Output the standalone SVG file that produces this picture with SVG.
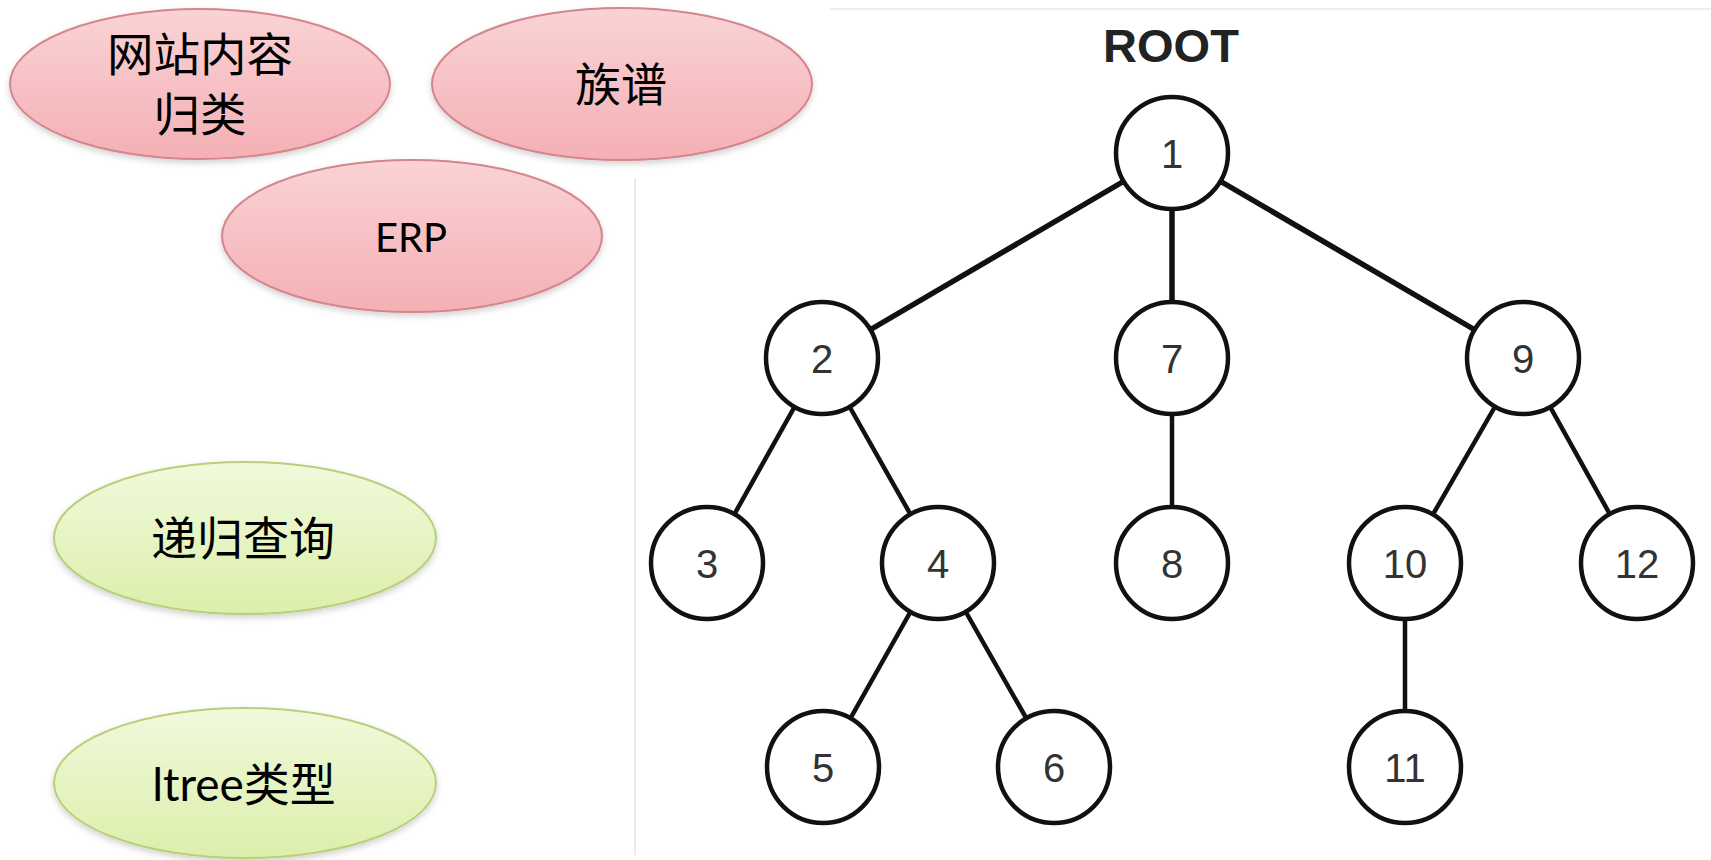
<svg xmlns="http://www.w3.org/2000/svg" width="1711" height="860" viewBox="0 0 1711 860">
<defs>
<linearGradient id="pink" x1="0" y1="0" x2="0" y2="1">
<stop offset="0" stop-color="#fad3d5"/>
<stop offset="1" stop-color="#f4b0b5"/>
</linearGradient>
<linearGradient id="green" x1="0" y1="0" x2="0" y2="1">
<stop offset="0" stop-color="#f1f9dc"/>
<stop offset="1" stop-color="#dcefab"/>
</linearGradient>
<filter id="sh" x="-10%" y="-10%" width="120%" height="130%">
<feDropShadow dx="0" dy="3" stdDeviation="3" flood-color="#000" flood-opacity="0.18"/>
</filter>
</defs>
<style>
.pk{fill:url(#pink);stroke:#d4868c;stroke-width:2;filter:url(#sh)}
.gr{fill:url(#green);stroke:#b9cf7c;stroke-width:2;filter:url(#sh)}
.cjk{font-family:"Noto Sans CJK SC","Liberation Sans",sans-serif;font-size:46px;fill:#000;text-anchor:middle}
.lat{font-family:Lato,"Noto Sans CJK SC",sans-serif;fill:#000;text-anchor:middle}
.nd circle{fill:#fff;stroke:#111;stroke-width:4.5}
.num{font-family:"Liberation Sans",Arial,sans-serif;font-size:40px;fill:#333;text-anchor:middle}
.e1{stroke:#111;stroke-width:5.5;stroke-linecap:round}
.e2{stroke:#111;stroke-width:4.5;stroke-linecap:round}
</style>
<rect width="1711" height="860" fill="#fff"/>
<line x1="830" y1="9" x2="1711" y2="9" stroke="#eeeeee" stroke-width="2"/>
<line x1="635" y1="178" x2="635" y2="855" stroke="#ececec" stroke-width="2"/>

<g id="n-web">
<ellipse class="pk" cx="200" cy="84" rx="190" ry="75"/>
<text class="cjk" x="200" y="71" font-size="41" textLength="186" lengthAdjust="spacingAndGlyphs">网站内容</text>
<text class="cjk" x="200" y="131" font-size="41" textLength="93" lengthAdjust="spacingAndGlyphs">归类</text>
</g>
<g id="n-genealogy">
<ellipse class="pk" cx="622" cy="84" rx="190" ry="76"/>
<text class="cjk" x="621" y="101">族谱</text>
</g>
<g id="n-erp">
<ellipse class="pk" cx="412" cy="236" rx="190" ry="76"/>
<text class="lat" x="411" y="252" font-size="40">ERP</text>
</g>
<g id="n-recursive">
<ellipse class="gr" cx="245" cy="538" rx="191" ry="76"/>
<text class="cjk" x="243" y="555">递归查询</text>
</g>
<g id="n-ltree">
<ellipse class="gr" cx="245" cy="783" rx="191" ry="75"/>
<text class="lat" x="244" y="801" font-size="46">ltree类型</text>
</g>

<text id="root-label" x="1171" y="62" font-family="Liberation Sans,Arial,sans-serif" font-size="47" font-weight="bold" fill="#222" text-anchor="middle">ROOT</text>

<g id="connectors">
<line class="e1" x1="1172" y1="153" x2="822" y2="358"/>
<line class="e1" x1="1172" y1="153" x2="1172" y2="358"/>
<line class="e1" x1="1172" y1="153" x2="1523" y2="358"/>
<line class="e2" x1="822" y1="358" x2="707" y2="563"/>
<line class="e2" x1="822" y1="358" x2="938" y2="563"/>
<line class="e2" x1="1172" y1="358" x2="1172" y2="563"/>
<line class="e2" x1="1523" y1="358" x2="1405" y2="563"/>
<line class="e2" x1="1523" y1="358" x2="1637" y2="563"/>
<line class="e2" x1="938" y1="563" x2="823" y2="767"/>
<line class="e2" x1="938" y1="563" x2="1054" y2="767"/>
<line class="e2" x1="1405" y1="563" x2="1405" y2="767"/>
</g>

<g id="t1" class="nd"><circle cx="1172" cy="153" r="56"/><text class="num" x="1172" y="168">1</text></g>
<g id="t2" class="nd"><circle cx="822" cy="358" r="56"/><text class="num" x="822" y="373">2</text></g>
<g id="t7" class="nd"><circle cx="1172" cy="358" r="56"/><text class="num" x="1172" y="373">7</text></g>
<g id="t9" class="nd"><circle cx="1523" cy="358" r="56"/><text class="num" x="1523" y="373">9</text></g>
<g id="t3" class="nd"><circle cx="707" cy="563" r="56"/><text class="num" x="707" y="578">3</text></g>
<g id="t4" class="nd"><circle cx="938" cy="563" r="56"/><text class="num" x="938" y="578">4</text></g>
<g id="t8" class="nd"><circle cx="1172" cy="563" r="56"/><text class="num" x="1172" y="578">8</text></g>
<g id="t10" class="nd"><circle cx="1405" cy="563" r="56"/><text class="num" x="1405" y="578">10</text></g>
<g id="t12" class="nd"><circle cx="1637" cy="563" r="56"/><text class="num" x="1637" y="578">12</text></g>
<g id="t5" class="nd"><circle cx="823" cy="767" r="56"/><text class="num" x="823" y="782">5</text></g>
<g id="t6" class="nd"><circle cx="1054" cy="767" r="56"/><text class="num" x="1054" y="782">6</text></g>
<g id="t11" class="nd"><circle cx="1405" cy="767" r="56"/><text class="num" x="1405" y="782">11</text></g>
</svg>
